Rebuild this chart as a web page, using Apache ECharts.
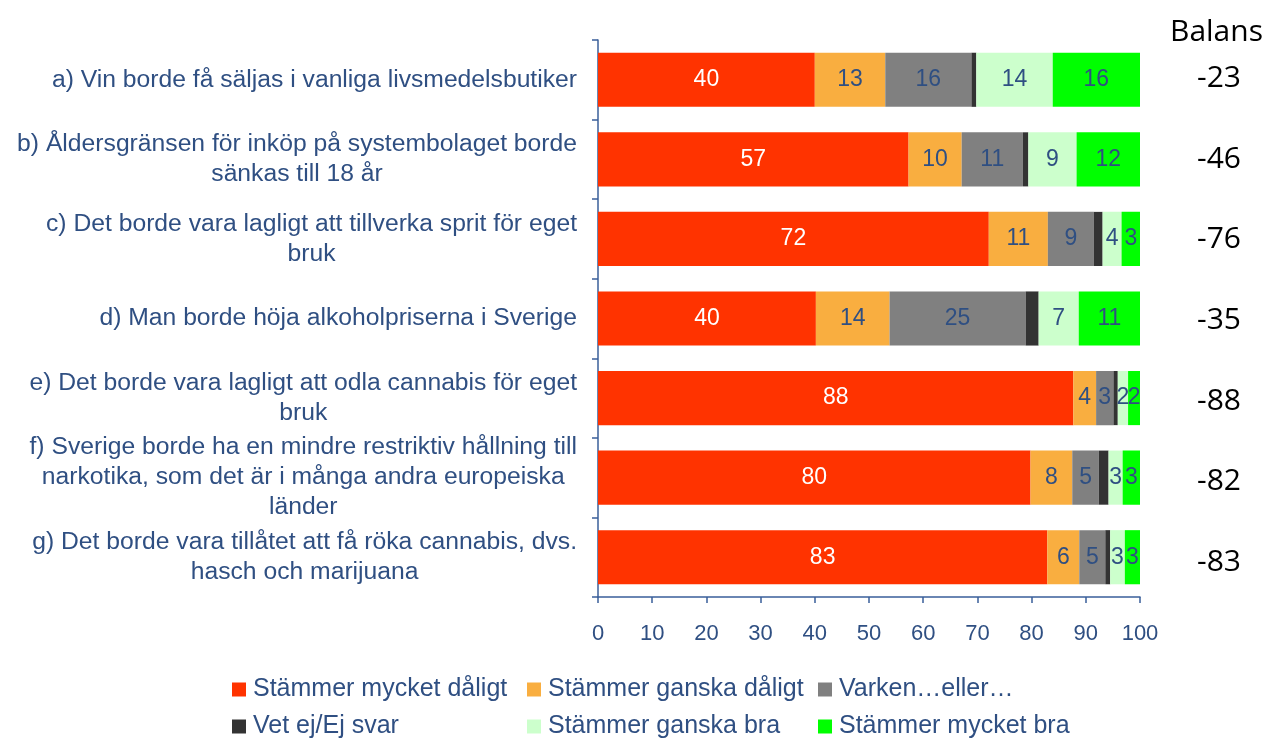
<!DOCTYPE html>
<html>
<head>
<meta charset="utf-8">
<script src="https://cdn.jsdelivr.net/npm/echarts@6/dist/echarts.min.js"></script>
<style>
html,body{margin:0;padding:0;background:#fff;}
#c{width:1272px;height:740px;}
</style>
</head>
<body>
<div id="c"></div>
<script>
const categories = [
  "a) Vin borde få säljas i vanliga livsmedelsbutiker",
  "b) Åldersgränsen för inköp på systembolaget borde\nsänkas till 18 år",
  "c) Det borde vara lagligt att tillverka sprit för eget\nbruk",
  "d) Man borde höja alkoholpriserna i Sverige",
  "e) Det borde vara lagligt att odla cannabis för eget\nbruk",
  "f) Sverige borde ha en mindre restriktiv hållning till\nnarkotika, som det är i många andra europeiska\nländer",
  "g) Det borde vara tillåtet att få röka cannabis, dvs.\nhasch och marijuana"
];
const seriesNames = ["Stämmer mycket dåligt","Stämmer ganska dåligt","Varken…eller…","Vet ej/Ej svar","Stämmer ganska bra","Stämmer mycket bra"];
const mycketDaligt = [40.0, 57.3, 72.1, 40.2, 87.7, 79.8, 82.9];
const ganskaDaligt = [13.0, 9.8, 10.9, 13.6, 4.2, 7.7, 5.9];
const varken       = [15.9, 11.3, 8.5, 25.1, 3.2, 4.9, 4.8];
const vetEj        = [0.9, 1.0, 1.6, 2.4, 0.8, 1.8, 0.9];
const ganskaBra    = [14.1, 8.9, 3.5, 7.4, 1.9, 2.6, 2.7];
const mycketBra    = [16.1, 11.7, 3.4, 11.3, 2.2, 3.2, 2.8];
const balans = [-23, -46, -76, -35, -88, -82, -83];
const xTicks = [0,10,20,30,40,50,60,70,80,90,100];

const colors = ['#FF3300','#F9AE40','#808080','#333333','#CCFFCC','#00FF00'];
const textBlue = '#2F4F82';
const FONT = '"Liberation Sans", Arial, sans-serif';
const seriesData = [mycketDaligt, ganskaDaligt, varken, vetEj, ganskaBra, mycketBra];

const chart = echarts.init(document.getElementById('c'), null, {renderer:'canvas'});

const series = seriesData.map((d, i) => ({
  name: seriesNames[i],
  type: 'bar',
  stack: 'total',
  xAxisIndex: 0, yAxisIndex: 0,
  barCategoryGap: '32%',
  data: d,
  itemStyle: {color: colors[i]},
  label: {
    show: i !== 3,
    position: 'inside',
    formatter: p => Math.round(p.value),
    color: i === 0 ? '#ffffff' : textBlue,
    fontSize: 23,
    fontFamily: FONT
  },
  emphasis: {disabled: true}
}));

const legendCol = (names, left) => ({
  orient: 'vertical',
  left: left, top: 677,
  data: names,
  itemWidth: 14, itemHeight: 14,
  itemGap: 12,
  icon: 'rect',
  padding: 0,
  textStyle: {fontSize: 25, color: textBlue, fontFamily: FONT, padding: [0,0,0,2]},
  selectedMode: false
});

const option = {
  animation: false,
  backgroundColor: '#fff',
  title: {
    text: 'Balans', left: 1170, top: 17, padding: 0,
    textStyle: {fontSize: 30, fontWeight: 'normal', color: '#000', fontFamily: '"Open Sans", sans-serif'}
  },
  legend: [
    legendCol([seriesNames[0], seriesNames[3]], 232),
    legendCol([seriesNames[1], seriesNames[4]], 527),
    legendCol([seriesNames[2], seriesNames[5]], 818)
  ],
  grid: [
    {left: 598, right: 132, top: 40, bottom: 143, containLabel: false},
    {left: 1219, width: 1, top: 38, bottom: 137, containLabel: false}
  ],
  xAxis: [
    {
      type: 'value', gridIndex: 0, min: xTicks[0], max: xTicks[xTicks.length-1], interval: 10,
      axisLine: {show: true, lineStyle: {color: '#3A5F9A', width: 1.5}},
      axisTick: {show: true, length: 6, lineStyle: {color: '#3A5F9A', width: 1.5}},
      splitLine: {show: false},
      axisLabel: {fontSize: 22, color: textBlue, fontFamily: FONT, margin: 26}
    },
    {type: 'value', gridIndex: 1, show: false}
  ],
  yAxis: [
    {
      type: 'category', gridIndex: 0, inverse: true, data: categories,
      axisLine: {show: true, lineStyle: {color: '#3A5F9A', width: 1.5}},
      axisTick: {show: true, length: 6, lineStyle: {color: '#3A5F9A', width: 1.5}},
      axisLabel: {
        margin: 21, align: 'right',
        formatter: v => v.split('\n').map(l => '{c|' + l + '}').join('\n'),
        rich: {c: {align: 'center', fontSize: 24.7, lineHeight: 30, color: textBlue, fontFamily: FONT}}
      }
    },
    {
      type: 'category', gridIndex: 1, inverse: true, data: balans.map(String),
      axisLine: {show: false}, axisTick: {show: false}, splitLine: {show: false},
      axisLabel: {margin: 0, align: 'center', fontSize: 30, color: '#000', fontFamily: '"Open Sans", sans-serif'}
    }
  ],
  series: series
};
chart.setOption(option);
</script>
</body>
</html>
